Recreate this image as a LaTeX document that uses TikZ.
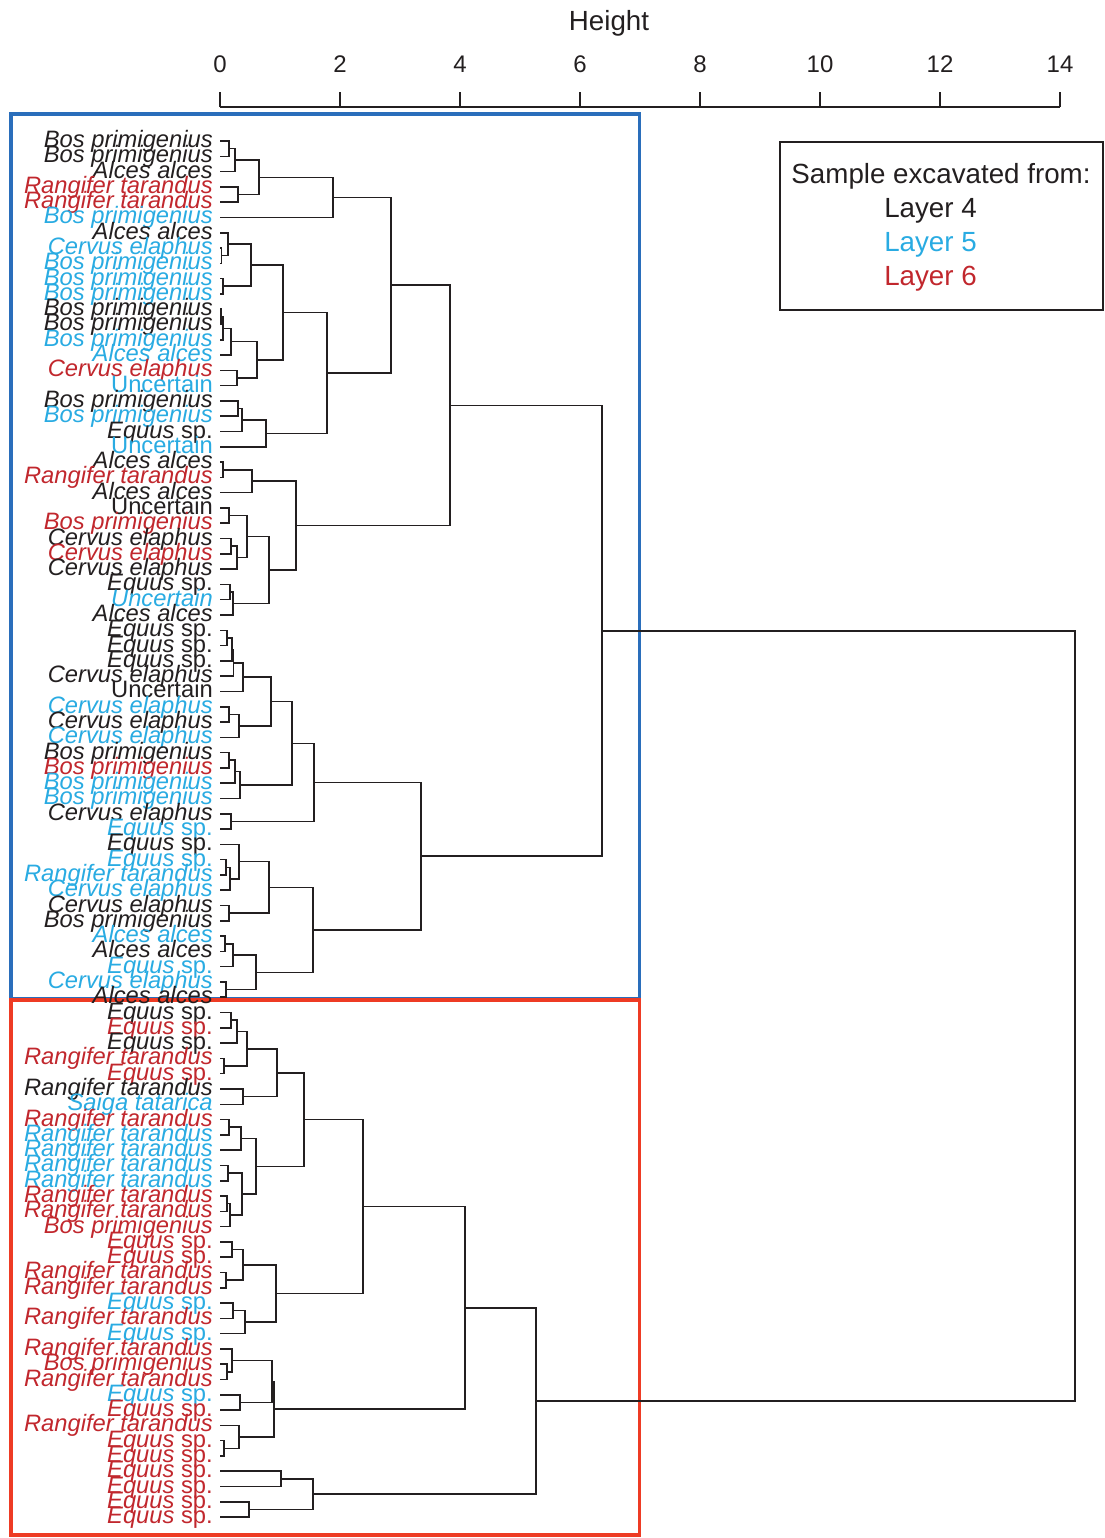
\documentclass[tikz,border=0pt]{standalone}
\usepackage{fontspec}
\setmainfont{Liberation Sans}
\usetikzlibrary{calc}
\definecolor{tk}{HTML}{231F20}
\definecolor{tb}{HTML}{29ABE2}
\definecolor{tr}{HTML}{C1272D}
\definecolor{boxblue}{HTML}{2A6EBB}
\definecolor{boxred}{HTML}{EE3B24}
\newcommand\zBp{\textit{Bos primigenius}}
\newcommand\zAa{\textit{Alces alces}}
\newcommand\zRt{\textit{Rangifer tarandus}}
\newcommand\zCe{\textit{Cervus elaphus}}
\newcommand\zEq{\textit{Equus} sp.}
\newcommand\zUn{Uncertain}
\newcommand\zUi{\textit{Uncertain}}
\newcommand\zSt{\textit{Saiga tatarica}}
\newcommand\leafat[3]{%
  \coordinate (L#1) at (220,{141+(#1-1)*15.29});
  \node[leaflab,text=#2] (T#1) at (213,{147.5+(#1-1)*15.29}) {#3};}
\newcommand\joinat[4]{%
  \coordinate (#1m) at ($(#2)!0.5!(#3)$);
  \coordinate (#1) at (#4,0 |- #1m);
  \draw[tree] (#2) -| (#1) |- (#3);}
\begin{document}
\begin{tikzpicture}[x=0.75pt,y=-0.75pt,
  leaflab/.style={anchor=base east,inner sep=0pt,font=\fontsize{17.8}{18}\selectfont},
  tree/.style={draw=tk,line width=1.15pt},
  axislab/.style={anchor=base,inner sep=0pt,font=\fontsize{18}{20}\selectfont,text=tk},
  bigtext/.style={inner sep=0pt,font=\fontsize{20.8}{24}\selectfont}]
\useasboundingbox (0,0) rectangle (1105,1538);
% axis
\node[bigtext,anchor=base,text=tk] (htitle) at (609,31) {Height};
\draw[tk,line width=1.15pt] (220,107) coordinate (ax0) -- (1060,107) coordinate (ax1);
\foreach \v in {0,...,7}{
  \coordinate (tk\v) at ({220+120*\v},107);
  \draw[tk,line width=1.15pt] (tk\v) -- ++(0,-15);
  \pgfmathtruncatemacro\lab{2*\v}
  \node[axislab] (tl\v) at ({220+120*\v},73) {\lab};
}
% boxes
\draw[boxblue,line width=2.7pt] (11,114) rectangle (639.5,999);
\draw[boxred,line width=2.7pt] (11,1000) rectangle (639.5,1535);
% legend
\draw[tk,line width=1.15pt] (780,142) rectangle (1103,310);
\node[bigtext,anchor=base,text=tk] (lg0) at (941,183) {Sample excavated from:};
\node[bigtext,anchor=base west,text=tk] (lg4) at (884,217) {Layer 4};
\node[bigtext,anchor=base west,text=tb] (lg5) at (884,251) {Layer 5};
\node[bigtext,anchor=base west,text=tr] (lg6) at (884,285) {Layer 6};
% leaves
\leafat{1}{tk}{\zBp}
\leafat{2}{tk}{\zBp}
\leafat{3}{tk}{\zAa}
\leafat{4}{tr}{\zRt}
\leafat{5}{tr}{\zRt}
\leafat{6}{tb}{\zBp}
\leafat{7}{tk}{\zAa}
\leafat{8}{tb}{\zCe}
\leafat{9}{tb}{\zBp}
\leafat{10}{tb}{\zBp}
\leafat{11}{tb}{\zBp}
\leafat{12}{tk}{\zBp}
\leafat{13}{tk}{\zBp}
\leafat{14}{tb}{\zBp}
\leafat{15}{tb}{\zAa}
\leafat{16}{tr}{\zCe}
\leafat{17}{tb}{\zUn}
\leafat{18}{tk}{\zBp}
\leafat{19}{tb}{\zBp}
\leafat{20}{tk}{\zEq}
\leafat{21}{tb}{\zUn}
\leafat{22}{tk}{\zAa}
\leafat{23}{tr}{\zRt}
\leafat{24}{tk}{\zAa}
\leafat{25}{tk}{\zUn}
\leafat{26}{tr}{\zBp}
\leafat{27}{tk}{\zCe}
\leafat{28}{tr}{\zCe}
\leafat{29}{tk}{\zCe}
\leafat{30}{tk}{\zEq}
\leafat{31}{tb}{\zUi}
\leafat{32}{tk}{\zAa}
\leafat{33}{tk}{\zEq}
\leafat{34}{tk}{\zEq}
\leafat{35}{tk}{\zEq}
\leafat{36}{tk}{\zCe}
\leafat{37}{tk}{\zUn}
\leafat{38}{tb}{\zCe}
\leafat{39}{tk}{\zCe}
\leafat{40}{tb}{\zCe}
\leafat{41}{tk}{\zBp}
\leafat{42}{tr}{\zBp}
\leafat{43}{tb}{\zBp}
\leafat{44}{tb}{\zBp}
\leafat{45}{tk}{\zCe}
\leafat{46}{tb}{\zEq}
\leafat{47}{tk}{\zEq}
\leafat{48}{tb}{\zEq}
\leafat{49}{tb}{\zRt}
\leafat{50}{tb}{\zCe}
\leafat{51}{tk}{\zCe}
\leafat{52}{tk}{\zBp}
\leafat{53}{tb}{\zAa}
\leafat{54}{tk}{\zAa}
\leafat{55}{tb}{\zEq}
\leafat{56}{tb}{\zCe}
\leafat{57}{tk}{\zAa}
\leafat{58}{tk}{\zEq}
\leafat{59}{tr}{\zEq}
\leafat{60}{tk}{\zEq}
\leafat{61}{tr}{\zRt}
\leafat{62}{tr}{\zEq}
\leafat{63}{tk}{\zRt}
\leafat{64}{tb}{\zSt}
\leafat{65}{tr}{\zRt}
\leafat{66}{tb}{\zRt}
\leafat{67}{tb}{\zRt}
\leafat{68}{tb}{\zRt}
\leafat{69}{tb}{\zRt}
\leafat{70}{tr}{\zRt}
\leafat{71}{tr}{\zRt}
\leafat{72}{tr}{\zBp}
\leafat{73}{tr}{\zEq}
\leafat{74}{tr}{\zEq}
\leafat{75}{tr}{\zRt}
\leafat{76}{tr}{\zRt}
\leafat{77}{tb}{\zEq}
\leafat{78}{tr}{\zRt}
\leafat{79}{tb}{\zEq}
\leafat{80}{tr}{\zRt}
\leafat{81}{tr}{\zBp}
\leafat{82}{tr}{\zRt}
\leafat{83}{tb}{\zEq}
\leafat{84}{tr}{\zEq}
\leafat{85}{tr}{\zRt}
\leafat{86}{tr}{\zEq}
\leafat{87}{tr}{\zEq}
\leafat{88}{tr}{\zEq}
\leafat{89}{tr}{\zEq}
\leafat{90}{tr}{\zEq}
\leafat{91}{tr}{\zEq}
% tree: upper (blue box)
\joinat{a1}{L1}{L2}{229}
\joinat{a2}{a1}{L3}{235}
\joinat{a3}{L4}{L5}{238}
\joinat{a4}{a2}{a3}{259}
\joinat{a5}{a4}{L6}{333}
\joinat{b1}{L8}{L9}{221.5}
\joinat{b2}{L7}{b1}{228}
\joinat{b3}{L10}{L11}{223}
\joinat{b4}{b2}{b3}{251}
\joinat{c1}{L12}{L13}{221}
\joinat{c2}{c1}{L14}{223}
\joinat{c3}{c2}{L15}{231}
\joinat{c4}{L16}{L17}{237}
\joinat{c5}{c3}{c4}{257}
\joinat{b5}{b4}{c5}{283}
\joinat{d1}{L18}{L19}{238}
\joinat{d2}{d1}{L20}{242}
\joinat{d3}{d2}{L21}{266}
\joinat{e1}{b5}{d3}{327}
\joinat{e2}{a5}{e1}{391}
\joinat{f1}{L22}{L23}{223}
\joinat{f2}{f1}{L24}{252}
\joinat{f3}{L25}{L26}{229}
\joinat{f4}{L27}{L28}{231}
\joinat{f5}{f4}{L29}{237}
\joinat{f6}{f3}{f5}{247}
\joinat{f7}{L30}{L31}{230}
\joinat{f8}{f7}{L32}{233}
\joinat{f9}{f6}{f8}{269}
\joinat{f10}{f2}{f9}{296}
\joinat{g1}{e2}{f10}{450}
\joinat{h1}{L33}{L34}{227}
\joinat{h2}{h1}{L35}{232}
\joinat{h3}{h2}{L36}{233.5}
\joinat{h4}{h3}{L37}{243}
\joinat{h5}{L38}{L39}{229}
\joinat{h6}{h5}{L40}{239}
\joinat{h7}{h4}{h6}{271}
\joinat{h8}{L41}{L42}{229}
\joinat{h9}{h8}{L43}{235}
\joinat{h10}{h9}{L44}{240}
\joinat{h11}{h7}{h10}{292}
\joinat{h12}{L45}{L46}{231}
\joinat{h13}{h11}{h12}{314}
\joinat{i1}{L48}{L49}{226}
\joinat{i2}{i1}{L50}{230}
\joinat{i3}{L47}{i2}{239}
\joinat{i4}{L51}{L52}{229}
\joinat{i5}{i3}{i4}{269}
\joinat{i6}{L53}{L54}{225}
\joinat{i7}{i6}{L55}{233}
\joinat{i8}{L56}{L57}{226}
\joinat{i9}{i7}{i8}{256}
\joinat{i10}{i5}{i9}{313}
\joinat{i11}{h13}{i10}{421}
\joinat{g2}{g1}{i11}{602}
% tree: lower (red box)
\joinat{j1}{L58}{L59}{231}
\joinat{j2}{j1}{L60}{237}
\joinat{j3}{L61}{L62}{224}
\joinat{j4}{j2}{j3}{247}
\joinat{j5}{L63}{L64}{243}
\joinat{j6}{j4}{j5}{277}
\joinat{k1}{L65}{L66}{229}
\joinat{k2}{k1}{L67}{241}
\joinat{k3}{L68}{L69}{228}
\joinat{k4}{L70}{L71}{227}
\joinat{k5}{k4}{L72}{230}
\joinat{k6}{k3}{k5}{242}
\joinat{k7}{k2}{k6}{256}
\joinat{k8}{j6}{k7}{304}
\joinat{m1}{L73}{L74}{232}
\joinat{m2}{L75}{L76}{226}
\joinat{m3}{m1}{m2}{243}
\joinat{m4}{L77}{L78}{233}
\joinat{m5}{m4}{L79}{245}
\joinat{m6}{m3}{m5}{276}
\joinat{m7}{k8}{m6}{363}
\joinat{n1}{L81}{L82}{227}
\joinat{n2}{L80}{n1}{232}
\joinat{n3}{L83}{L84}{240}
\joinat{n4}{n2}{n3}{272}
\joinat{n5}{L86}{L87}{224}
\joinat{n6}{L85}{n5}{239}
\joinat{n7}{n4}{n6}{274}
\joinat{n8}{m7}{n7}{465}
\joinat{p1}{L88}{L89}{281}
\joinat{p2}{L90}{L91}{249}
\joinat{p3}{p1}{p2}{313}
\joinat{p4}{n8}{p3}{536}
\joinat{root}{g2}{p4}{1075}
\end{tikzpicture}
\end{document}
